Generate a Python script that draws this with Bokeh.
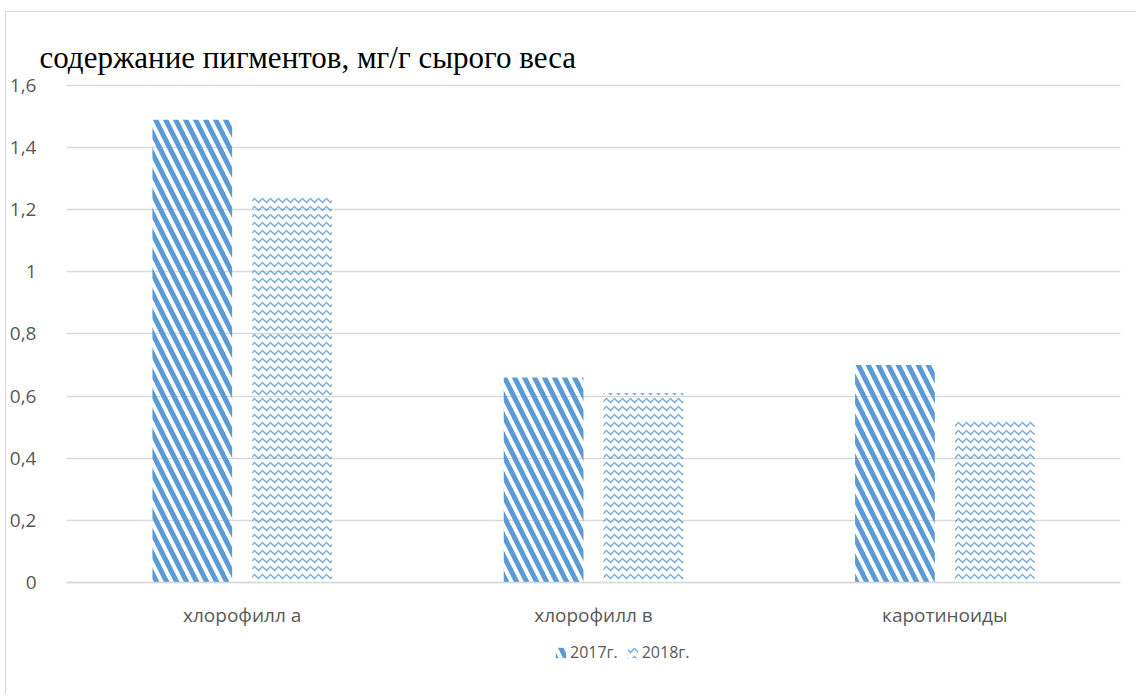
from bokeh.plotting import figure
from bokeh.models import (FactorRange, ColumnDataSource, FixedTicker, CustomJSTickFormatter,
                          Legend, LegendItem, Title, Range1d)
from bokeh.transform import dodge
from bokeh.embed import file_html
from bokeh.resources import INLINE

categories = ["хлорофилл а", "хлорофилл в", "каротиноиды"]
series_names = ["2017г.", "2018г."]
values_2017 = [1.49, 0.66, 0.70]
values_2018 = [1.24, 0.61, 0.525]
y_ticks = [0, 0.2, 0.4, 0.6, 0.8, 1.0, 1.2, 1.4, 1.6]
title_text = "содержание пигментов, мг/г сырого веса"

src = ColumnDataSource(dict(cat=categories, v17=values_2017, v18=values_2018))

p = figure(width=1131, height=683, x_range=FactorRange(*categories, range_padding=0),
           y_range=Range1d(-0.3638, 1.6064), output_backend="svg", toolbar_location=None,
           min_border_left=50, min_border_right=17, min_border_top=71, min_border_bottom=0)
p.styles = {"border-left": "1px solid #d9d9d9", "border-top": "1px solid #d9d9d9",
            "margin-left": "5px", "margin-top": "11px"}

blue = "#5B9BD5"
r1 = p.vbar(x=dodge("cat", -0.142, range=p.x_range), top="v17", width=0.227, source=src,
            fill_color=None, line_color=None, hatch_pattern="left_diagonal_line",
            hatch_color=blue, hatch_scale=20, hatch_weight=5)
r2 = p.vbar(x=dodge("cat", 0.142, range=p.x_range), top="v18", width=0.227, source=src,
            fill_color=None, line_color=None, hatch_pattern="horizontal_wave",
            hatch_color=blue, hatch_scale=8, hatch_weight=1.3, hatch_alpha=0.85)

p.outline_line_color = None
p.background_fill_color = "white"
p.border_fill_color = "white"

p.yaxis.ticker = FixedTicker(ticks=y_ticks)
p.yaxis.formatter = CustomJSTickFormatter(code="return (Math.round(tick*10)/10).toString().replace('.', ',');")
p.yaxis.axis_line_color = None
p.yaxis.major_tick_line_color = None
p.yaxis.minor_tick_line_color = None
p.yaxis.major_label_standoff = 24
p.yaxis.major_label_text_font = "Open Sans"
p.yaxis.major_label_text_font_size = "19px"
p.yaxis.major_label_text_color = "#595959"

p.xaxis.fixed_location = 0
p.xaxis.axis_line_color = "#d9d9d9"
p.xaxis.axis_line_width = 1.5
p.xaxis.major_tick_line_color = None
p.xaxis.minor_tick_line_color = None
p.xaxis.major_label_standoff = 14
p.xaxis.major_label_text_font = "Open Sans"
p.xaxis.major_label_text_font_size = "19px"
p.xaxis.major_label_text_color = "#595959"

p.xgrid.grid_line_color = None
p.ygrid.ticker = FixedTicker(ticks=y_ticks)
p.ygrid.grid_line_color = "#d9d9d9"
p.ygrid.grid_line_width = 1.5

t = Title(text=title_text, align="left", offset=-27, text_font="Liberation Serif",
          text_font_size="31px", text_font_style="normal", text_color="black", standoff=18)
p.add_layout(t, "above")

legend = Legend(items=[LegendItem(label=series_names[0], renderers=[r1]),
                       LegendItem(label=series_names[1], renderers=[r2])],
                orientation="horizontal", location=(488, 32), border_line_color=None,
                background_fill_alpha=0,
                label_text_font="Open Sans", label_text_font_size="16px",
                label_text_color="#595959", glyph_width=13, glyph_height=13,
                spacing=8, label_standoff=3, margin=0, padding=0)
p.add_layout(legend, "center")

open("out.html", "w").write(file_html(p, INLINE))
